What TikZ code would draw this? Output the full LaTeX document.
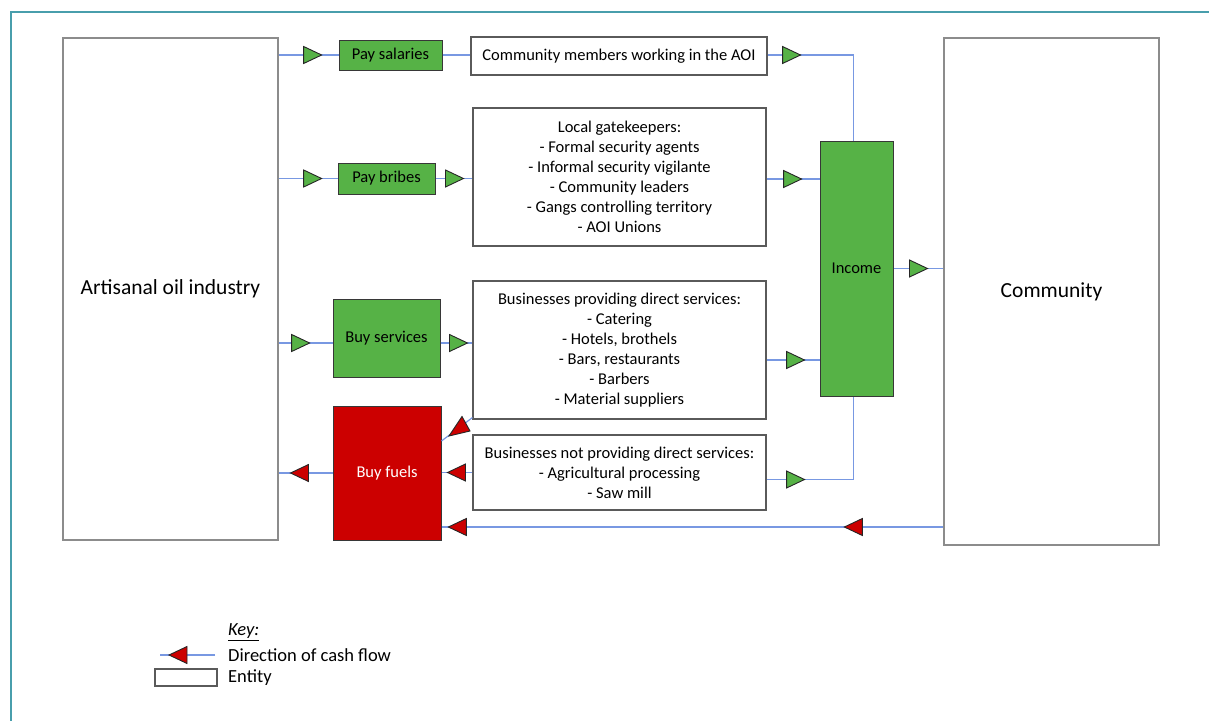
\documentclass[tikz,border=0pt]{standalone}
\usepackage{fontspec}
\setmainfont{Carlito}
\usetikzlibrary{decorations.markings}
\definecolor{gfill}{RGB}{86,178,70}
\definecolor{rfill}{RGB}{204,0,0}
\definecolor{lineblue}{RGB}{120,152,226}
\definecolor{entgray}{RGB}{90,90,90}
\definecolor{biggray}{RGB}{140,140,140}
\definecolor{actborder}{RGB}{55,55,55}
\definecolor{teal}{RGB}{72,158,172}
\newcommand\gtri{\draw[draw=black!85,line width=0.9pt,fill=gfill] (-9,-8.5)--(9,0)--(-9,8.5)--cycle;}
\newcommand\rtri{\draw[draw=black!85,line width=0.9pt,fill=rfill] (-9,-8.5)--(9,0)--(-9,8.5)--cycle;}
\begin{document}
\begin{tikzpicture}[x=1pt,y=-1pt,
  txt/.style={font=\fontsize{16.5}{20}\selectfont},
  ent/.style={draw=entgray, line width=1.1pt, fill=white, inner sep=0pt, align=center, txt},
  bigent/.style={draw=biggray, line width=1.3pt, fill=white, inner sep=0pt, align=center, font=\fontsize{21.5}{26}\selectfont},
  act/.style={draw=actborder, line width=1pt, fill=gfill, inner sep=0pt, align=center, txt},
  redact/.style={draw=actborder, line width=1pt, fill=rfill, inner sep=0pt, align=center, txt, text=white},
  flow/.style={draw=lineblue, line width=1.2pt},
  gflow/.style={flow, postaction={decorate}, decoration={markings, mark=at position #1 with {\gtri}}},
  rflow/.style={flow, postaction={decorate}, decoration={markings, mark=at position #1 with {\rtri}}},
  tri/.style={draw=black!85, line width=0.9pt},
  keytxt/.style={anchor=west, inner sep=0pt, font=\fontsize{18.5}{22}\selectfont}
]
\useasboundingbox (0,0) rectangle (1209,720);
% frame
\draw[teal, line width=2.2pt] (11,722) -- (11,12) -- (1211,12);

% main entities
\node[bigent, minimum width=215, minimum height=502] (art) at (170.5,289) {Artisanal oil industry};
\node[bigent, minimum width=215, minimum height=507] (com) at (1051.5,291.5) {Community};

% actions
\node[act, minimum width=103, minimum height=30] (sal) at (390.5,55) {Pay salaries};
\node[act, minimum width=97, minimum height=31] (bri) at (386.5,178.5) {Pay bribes};
\node[act, minimum width=107, minimum height=78] (svc) at (386.5,338) {Buy services};
\node[redact, minimum width=108, minimum height=134] (fue) at (387,473) {Buy fuels};
\node[act, minimum width=73, minimum height=255] (inc) at (856.5,268.5) {Income};

% recipients
\node[ent, minimum width=296, minimum height=38] (cm) at (619,56) {Community members working in the AOI};
\node[ent, minimum width=293, minimum height=138] (gate) at (619.5,177) {Local gatekeepers:\\- Formal security agents\\- Informal security vigilante\\- Community leaders\\- Gangs controlling territory\\- AOI Unions};
\node[ent, minimum width=293, minimum height=138] (dir) at (619.5,350) {Businesses providing direct services:\\- Catering\\- Hotels, brothels\\- Bars, restaurants\\- Barbers\\- Material suppliers};
\node[ent, minimum width=293, minimum height=75] (ndir) at (619.5,472.5) {Businesses not providing direct services:\\- Agricultural processing\\- Saw mill};

% flows
\draw[gflow=34pt] (sal.west -| art.east) -- (sal.west);
\draw[flow] (sal.east) -- (sal.east -| cm.west);
\draw[gflow=24pt] ([yshift=1pt]cm.east) -| ([xshift=-3pt]inc.north);
\draw[gflow=34pt] (bri.west -| art.east) -- (bri.west);
\draw[gflow=19pt] (bri.east) -- (bri.east -| gate.west);
\draw[gflow=26pt] ([yshift=-2pt]gate.east) -- ([yshift=-2pt]gate.east -| inc.west);
\draw[gflow=25pt] (inc.east) -- (inc.east -| com.west);
\draw[gflow=22pt] ([yshift=-5pt]svc.west -| art.east) -- ([yshift=-5pt]svc.west);
\draw[gflow=18pt] ([yshift=-5pt]svc.east) -- ([yshift=-5pt]svc.east -| dir.west);
\draw[gflow=29pt] ([yshift=-10pt]dir.east) -- ([yshift=-10pt]dir.east -| inc.west);
% diagonal flow from direct-services businesses to fuel purchases
\draw[flow] ([yshift=2pt]dir.south west) -- ([yshift=32pt]fue.east);
\draw[tri, fill=rfill] (449,436) -- (470,431) -- (462,416.5) -- cycle;
\draw[rflow=16pt] (ndir.west) -- (ndir.west -| fue.east);
\draw[gflow=29pt] ([yshift=-7pt]ndir.east) -| ([xshift=-3pt]inc.south);
\draw[rflow=33pt] (fue.west) -- (fue.west -| art.east);
\draw[flow, postaction={decorate}, decoration={markings, mark=at position 90pt with {\rtri}, mark=at position 486pt with {\rtri}}] ([yshift=-54pt]fue.east -| com.west) -- ([yshift=-54pt]fue.east);

% key
\node[keytxt] (keyh) at (228,632) {\underline{\textit{Key:}}};
\node[keytxt] (keyf) at (228,655) {Direction of cash flow};
\node[keytxt] (keye) at (228,678) {Entity};
\coordinate (kfa) at (215,655);
\coordinate (kfb) at (160,655);
\draw[rflow=37pt] (kfa) -- (kfb);
\node[draw=entgray, line width=1.1pt, minimum width=62, minimum height=17, inner sep=0pt] (keybox) at (186,677.5) {};
\end{tikzpicture}
\end{document}
